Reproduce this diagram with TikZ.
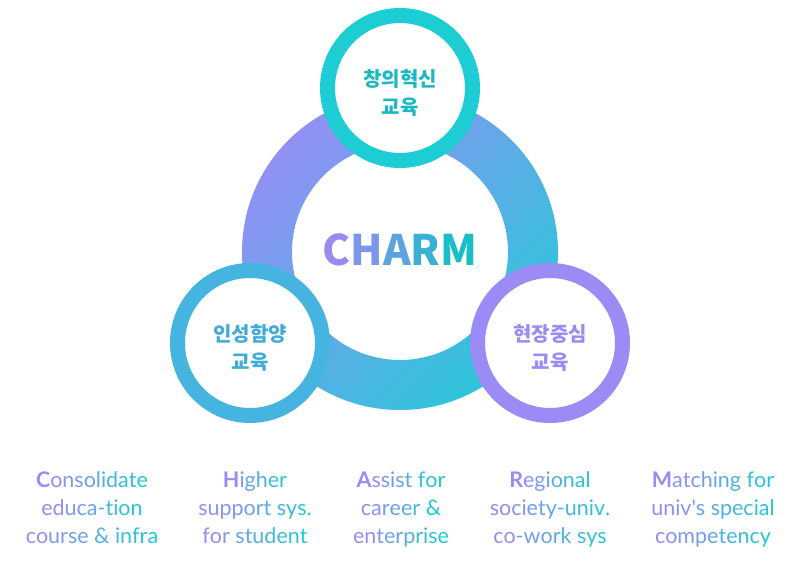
\documentclass[tikz,border=0pt]{standalone}
\usepackage{fontspec}
\usepackage{tikz}
\usepackage{xcolor}
\usetikzlibrary{positioning,calc}
\newfontfamily\krfont{Noto Sans CJK KR}
\newfontfamily\latofont{Lato}

\definecolor{gPurple}{HTML}{9C8AF4}
\definecolor{gCyan}{HTML}{1FCAD2}
\definecolor{charmTeal}{HTML}{19BEC6}
\definecolor{ringPurple}{HTML}{9290F4}
\definecolor{ringCyan}{HTML}{2CC6DA}
\definecolor{topTeal}{HTML}{1CCDD4}
\definecolor{leftBlue}{HTML}{45B4E1}
\definecolor{rightPurple}{HTML}{9B8BF4}

\tikzset{
  linefont/.style={font=\latofont\fontsize{21.5}{21.5}\selectfont, inner sep=1pt, anchor=base},
  charmfont/.style={font=\krfont\bfseries\fontsize{42}{42}\selectfont, inner sep=1pt},
  bubble/.style={circle, draw=#1, fill=white, line width=15pt, minimum size=145pt, inner sep=0pt},
  bubbletext/.style={font=\krfont\bfseries\fontsize{20}{28}\selectfont, align=center, text=#1}
}

% letters coloured from purple to cyan, first one bold with *
\ExplSyntaxOn
\int_new:N \l__grad_n_int
\int_new:N \l__grad_i_int
\bool_new:N \l__grad_bold_bool
\NewDocumentCommand \gradtext { s m }
  {
    \IfBooleanTF {#1}
      { \bool_set_true:N \l__grad_bold_bool }
      { \bool_set_false:N \l__grad_bold_bool }
    \int_set:Nn \l__grad_n_int { \str_count:n {#2} }
    \int_zero:N \l__grad_i_int
    \str_map_inline:nn {#2}
      {
        \int_incr:N \l__grad_i_int
        \tl_if_blank:nTF {##1}
          { \c_space_tl }
          {
            \group_begin:
            \exp_args:Ne \color
              { gCyan ! \int_eval:n { 100 * ( \l__grad_i_int - 1 ) / \int_max:nn { \l__grad_n_int - 1 } { 1 } } ! gPurple }
            \bool_if:nT { \l__grad_bold_bool && \int_compare_p:n { \l__grad_i_int = 1 } } { \bfseries }
            ##1
            \group_end:
          }
      }
  }
\ExplSyntaxOff

\begin{document}
\begin{tikzpicture}[x=1pt,y=-1pt]
  \useasboundingbox (0,0) rectangle (800,561);
  \coordinate (hub) at (400,252);

  % ring
  \path[even odd rule, top color=ringPurple, bottom color=ringCyan, shading angle=45]
    (hub) circle (158) (hub) circle (108);

  \node[charmfont] (title) at (400,250) {\textcolor{gPurple}{C}\textcolor{charmTeal!25!gPurple}{H}\textcolor{charmTeal!50!gPurple}{A}\textcolor{charmTeal!75!gPurple}{R}\textcolor{charmTeal}{M}};

  % three circles
  \node[bubble=topTeal] (top) at (400,88) {};
  \node[bubble=leftBlue] (left) at (250,343) {};
  \node[bubble=rightPurple] (right) at (550,343) {};
  \node[bubbletext=topTeal!90!black] (toptext) at (400,93) {창의혁신\\교육};
  \node[bubbletext=leftBlue!95!black] (lefttext) at (250,348) {인성함양\\교육};
  \node[bubbletext=rightPurple] (righttext) at (550,348) {현장중심\\교육};

  % bottom columns
  \node[linefont] (c1a) at (92,487) {\gradtext*{Consolidate}};
  \node[linefont] (c1b) at (92,515) {\gradtext{educa-tion}};
  \node[linefont] (c1c) at (92,543) {\gradtext{course & infra}};
  \node[linefont] (c2a) at (255,487) {\gradtext*{Higher}};
  \node[linefont] (c2b) at (255,515) {\gradtext{support sys.}};
  \node[linefont] (c2c) at (255,543) {\gradtext{for student}};
  \node[linefont] (c3a) at (401,487) {\gradtext*{Assist for}};
  \node[linefont] (c3b) at (401,515) {\gradtext{career &}};
  \node[linefont] (c3c) at (401,543) {\gradtext{enterprise}};
  \node[linefont] (c4a) at (550,487) {\gradtext*{Regional}};
  \node[linefont] (c4b) at (550,515) {\gradtext{society-univ.}};
  \node[linefont] (c4c) at (550,543) {\gradtext{co-work sys}};
  \node[linefont] (c5a) at (713,487) {\gradtext*{Matching for}};
  \node[linefont] (c5b) at (713,515) {\gradtext{univ's special}};
  \node[linefont] (c5c) at (713,543) {\gradtext{competency}};
\end{tikzpicture}
\end{document}
